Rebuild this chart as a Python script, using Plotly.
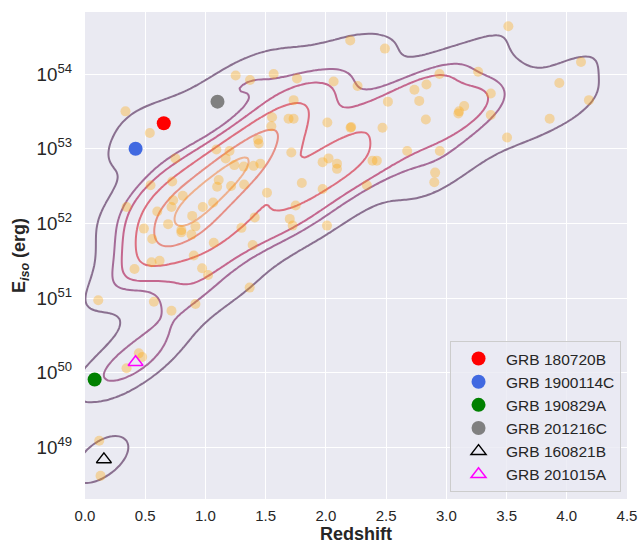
import numpy as np
import plotly.graph_objects as go

# ---------------- data ----------------
redshift = [0.336, 0.538, 0.751, 1.251, 1.37, 1.091, 1.20, 1.168, 1.437, 1.442,
            1.24, 1.318, 1.40, 1.456, 1.566, 1.76, 2.202, 2.49, 2.064, 2.263,
            1.732, 2.515, 2.735, 2.835, 2.943, 2.775, 2.83, 1.553, 1.547, 1.69,
            1.732, 2.012, 2.205, 2.21, 2.47, 1.713, 2.675, 2.946, 1.973, 2.022,
            2.092, 2.092, 2.387, 2.423, 2.907, 2.90, 3.515, 3.264, 4.118, 3.938,
            4.184, 3.369, 3.148, 3.106, 3.10, 3.369, 3.858, 3.504, 0.345, 0.544,
            0.724, 0.60, 0.732, 0.718, 0.812, 0.489, 0.558, 0.69, 0.80, 0.80,
            0.89, 0.917, 0.884, 0.978, 1.064, 1.11, 1.097, 1.213, 1.321, 1.511,
            1.409, 1.299, 1.069, 1.392, 0.903, 0.552, 0.619, 0.411, 0.972, 1.022,
            1.367, 0.11, 0.572, 0.718, 0.917, 1.80, 1.973, 2.34, 1.749, 1.70,
            1.724, 2.009, 0.447, 0.475, 0.345, 0.118, 0.129]
log_eiso = [53.50, 53.21, 52.87, 53.98, 53.92, 52.99, 52.97, 52.87, 53.12, 53.07,
            52.78, 52.76, 52.77, 52.80, 54.00, 53.94, 54.45, 54.34, 53.90, 53.84,
            53.65, 53.63, 53.79, 53.86, 54.00, 53.64, 53.39, 53.42, 53.30, 53.40,
            53.40, 53.35, 53.28, 53.29, 53.28, 52.95, 52.97, 52.97, 52.82, 52.87,
            52.80, 52.73, 52.84, 52.84, 52.68, 52.55, 54.64, 54.03, 54.16, 53.88,
            53.65, 53.74, 53.57, 53.50, 53.47, 53.45, 53.40, 53.15, 52.22, 52.51,
            52.56, 52.16, 52.31, 52.22, 52.37, 51.93, 51.79, 51.99, 51.91, 51.88,
            52.10, 51.96, 51.85, 52.22, 52.28, 52.58, 52.49, 52.50, 52.52, 52.41,
            52.08, 51.94, 51.74, 51.71, 51.57, 51.48, 51.50, 51.39, 51.40, 51.31,
            51.14, 50.97, 50.95, 50.83, 50.92, 52.54, 52.46, 52.51, 52.24, 52.06,
            51.97, 51.97, 50.26, 50.21, 50.06, 49.09, 48.62]

grb_names = ["GRB 180720B", "GRB 1900114C", "GRB 190829A", "GRB 201216C",
             "GRB 160821B", "GRB 201015A"]
grb_redshift = [0.654, 0.42, 0.08, 1.10, 0.157, 0.42]
grb_log_eiso = [53.34, 53.00, 49.91, 53.63, 48.84, 50.14]
grb_colors = ["red", "royalblue", "green", "grey", "black", "magenta"]
grb_symbols = ["circle", "circle", "circle", "circle", "triangle-up-open", "triangle-up-open"]

x_ticks = [0.0, 0.5, 1.0, 1.5, 2.0, 2.5, 3.0, 3.5, 4.0, 4.5]
level_colors = ["#8a7090", "#a56c98", "#c4678e", "#dc6f80", "#e68f86", "#eeb08e"]
iso_levels = [0.12, 0.34, 0.45, 0.67, 0.86, 0.95]
BW_ADJUST = 0.65

# ---------------- KDE (seaborn-like, in log space) ----------------
kz = np.array(redshift + grb_redshift)
ky = np.array(log_eiso + grb_log_eiso)
data = np.vstack([kz, ky])
n = data.shape[1]
kcov = np.cov(data) * (n ** (-1.0 / 6.0) * BW_ADJUST) ** 2
inv = np.linalg.inv(kcov)
bw = np.sqrt(np.diag(kcov))
gx = np.linspace(kz.min() - 3 * bw[0], kz.max() + 3 * bw[0], 200)
gy = np.linspace(ky.min() - 3 * bw[1], ky.max() + 3 * bw[1], 200)
GX, GY = np.meshgrid(gx, gy)
pts = np.stack([GX.ravel(), GY.ravel()])
diff = pts[:, :, None] - data[:, None, :]
m = np.einsum('ign,ij,jgn->gn', diff, inv, diff)
dens = np.exp(-0.5 * m).sum(axis=1).reshape(GX.shape)

vals = np.sort(dens.ravel())[::-1]
cum = np.cumsum(vals) / vals.sum()
idx = np.searchsorted(cum, 1 - np.array(iso_levels))
levels = np.take(vals, idx, mode="clip")

fig = go.Figure()

fig.add_trace(go.Scatter(
    x=redshift, y=10 ** np.array(log_eiso), mode="markers",
    marker=dict(size=10, color="rgba(255,165,0,0.33)", line=dict(width=0)),
    showlegend=False, hoverinfo="skip"))

for lev, col in zip(levels, level_colors):
    fig.add_trace(go.Contour(
        x=gx, y=10 ** gy, z=dens, autocontour=False,
        contours=dict(start=lev, end=lev, size=1, coloring="none"),
        line=dict(color=col, width=2), showscale=False, showlegend=False,
        hoverinfo="skip"))

for name, zz, le, col, sym in zip(grb_names, grb_redshift, grb_log_eiso, grb_colors, grb_symbols):
    if sym == "circle":
        mk = dict(size=14, color=col, symbol=sym, line=dict(width=0))
    else:
        mk = dict(size=13, color=col, symbol=sym, line=dict(width=1.5, color=col))
    fig.add_trace(go.Scatter(x=[zz], y=[10 ** le], mode="markers", name=name, marker=mk))

fig.update_layout(
    width=641, height=548,
    margin=dict(l=85, r=14, t=12, b=49),
    paper_bgcolor="white", plot_bgcolor="#EAEAF2",
    font=dict(family="Liberation Sans, Arial", size=15, color="#262626"),
    legend=dict(x=0.989, y=0.0144, xanchor="right", yanchor="bottom",
                bgcolor="rgba(234,234,242,0.8)", bordercolor="#cccccc", borderwidth=1,
                font=dict(size=15.5, color="#262626"), itemwidth=45),
    showlegend=True,
)
fig.update_xaxes(range=[0, 4.5], tickvals=x_ticks, ticktext=[f"{t:.1f}" for t in x_ticks],
                 showgrid=True, gridcolor="white", gridwidth=1.2, zeroline=False, showline=False,
                 ticks="", ticklabelstandoff=6, automargin=False, tickfont=dict(size=15),
                 title=dict(text="<b>Redshift</b>", font=dict(size=18), standoff=4))
fig.update_yaxes(type="log", range=[48.31, 54.83], dtick=1, exponentformat="power",
                 showgrid=True, gridcolor="white", gridwidth=1.2, zeroline=False, showline=False,
                 ticks="", ticklabelstandoff=12, automargin=False, tickfont=dict(size=15),
                 title=dict(text="<b>E<sub><i>iso</i></sub> (erg)</b>", font=dict(size=18), standoff=6))

fig.write_html("out.html", config={"displayModeBar": False},
               post_script="document.body.style.margin='0';")
